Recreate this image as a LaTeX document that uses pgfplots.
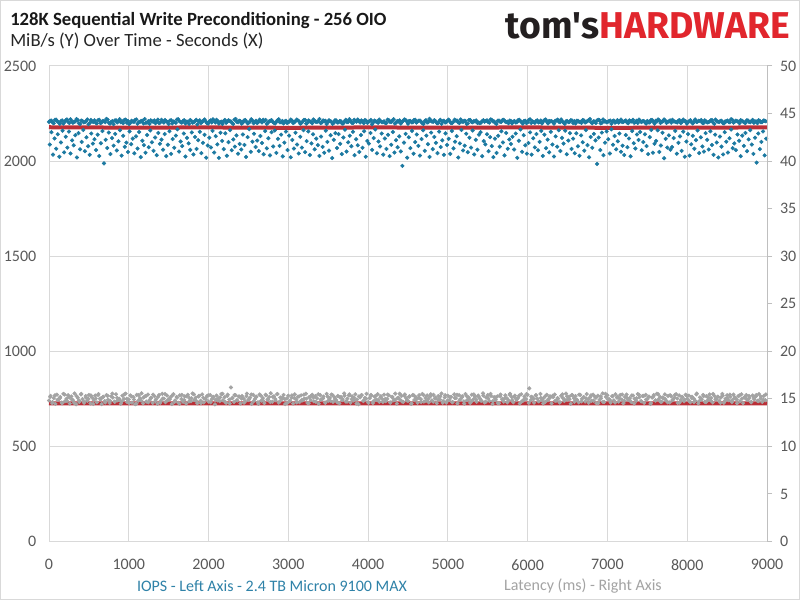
\documentclass[border=0pt]{standalone}
\usepackage{pgfplots}
\usepackage{pgfplotstable}
\pgfplotsset{compat=1.18}
\usepackage{fontspec}
\setmainfont{Carlito}
\newfontfamily\logofont{Fira Sans}
\definecolor{iops}{HTML}{1B79A1}
\definecolor{iopstxt}{HTML}{2F82A8}
\definecolor{lat}{HTML}{A3A3A3}
\definecolor{avg}{HTML}{BA2F37}
\definecolor{gridc}{HTML}{D9D9D9}
\definecolor{axc}{HTML}{BFBFBF}
\definecolor{tickc}{HTML}{595959}
\definecolor{logored}{HTML}{E1262D}
\definecolor{logodark}{HTML}{231F20}

% IOPS dense band, 30 s apart (row r, column c -> t = 300 r + 30 c)
\pgfplotstableread{
c0 c1 c2 c3 c4 c5 c6 c7 c8 c9
2206 2213 2199 2218 2204 2210 2197 2215 2207 2220
2201 2209 2216 2195 2211 2205 2219 2200 2208 2214
2198 2217 2203 2210 2222 2202 2207 2194 2215 2209
2204 2199 2218 2211 2201 2208 2216 2197 2206 2212
2221 2203 2196 2210 2214 2207 2200 2217 2202 2209
2195 2215 2208 2201 2220 2205 2211 2198 2207 2216
2202 2210 2193 2214 2206 2219 2200 2209 2203 2212
2217 2197 2207 2211 2201 2215 2208 2195 2221 2204
2210 2202 2216 2198 2208 2213 2206 2200 2218 2203
2211 2196 2209 2215 2201 2207 2220 2204 2198 2212
2205 2218 2200 2210 2214 2197 2208 2216 2202 2209
2199 2212 2206 2221 2203 2210 2195 2215 2207 2201
2214 2204 2209 2198 2217 2206 2212 2200 2211 2219
2203 2208 2216 2201 2210 2194 2213 2207 2218 2205
2209 2200 2215 2206 2220 2202 2208 2197 2212 2216
2196 2211 2204 2217 2207 2213 2199 2210 2203 2222
2208 2215 2201 2209 2196 2212 2205 2218 2200 2207
2213 2203 2219 2206 2211 2198 2216 2204 2209 2201
2200 2210 2207 2214 2202 2217 2208 2195 2213 2206
2217 2205 2199 2211 2208 2203 2215 2210 2197 2212
2204 2220 2209 2201 2214 2206 2198 2216 2207 2211
2210 2197 2213 2207 2219 2202 2209 2205 2215 2200
2198 2212 2206 2216 2203 2210 2221 2199 2208 2214
2215 2201 2208 2204 2211 2196 2213 2207 2202 2218
2206 2214 2199 2210 2217 2205 2200 2212 2209 2203
2211 2203 2216 2197 2208 2214 2206 2219 2201 2209
2202 2209 2205 2213 2200 2218 2210 2204 2215 2198
2219 2207 2211 2201 2214 2203 2208 2216 2196 2210
2205 2212 2198 2209 2206 2220 2202 2213 2207 2215
2208 2200 2214 2204 2217 2209 2199 2211 2205 2212
}\tabBand

% IOPS dense band, second pass (t = 300 r + 30 c + 15)
\pgfplotstableread{
c0 c1 c2 c3 c4 c5 c6 c7 c8 c9
2212 2203 2217 2208 2196 2214 2205 2219 2200 2210
2207 2221 2199 2213 2204 2209 2194 2216 2206 2202
2215 2200 2211 2205 2218 2197 2210 2213 2203 2220
2209 2216 2202 2195 2212 2206 2219 2204 2211 2198
2201 2210 2214 2207 2199 2218 2203 2209 2216 2205
2213 2198 2206 2219 2210 2202 2215 2207 2196 2211
2204 2217 2209 2200 2213 2208 2197 2214 2220 2203
2210 2205 2195 2216 2207 2211 2201 2218 2206 2212
2197 2214 2208 2203 2220 2199 2212 2205 2210 2217
2216 2202 2212 2206 2198 2215 2204 2211 2208 2200
2208 2213 2204 2218 2209 2201 2216 2197 2214 2206
2219 2207 2210 2200 2214 2212 2205 2209 2196 2215
2203 2211 2197 2209 2205 2220 2202 2217 2207 2210
2214 2199 2212 2207 2216 2203 2209 2201 2211 2204
2200 2218 2206 2213 2198 2210 2214 2206 2219 2208
2211 2204 2216 2202 2212 2207 2195 2215 2205 2213
2206 2210 2199 2217 2209 2203 2213 2208 2201 2218
2213 2201 2208 2212 2196 2216 2206 2210 2214 2203
2202 2215 2211 2205 2219 2209 2200 2212 2207 2216
2209 2207 2213 2198 2210 2204 2217 2203 2211 2200
2216 2200 2205 2211 2203 2213 2208 2219 2198 2209
2205 2212 2218 2204 2208 2196 2211 2206 2214 2210
2212 2206 2201 2214 2207 2216 2204 2209 2200 2217
2199 2219 2209 2206 2213 2210 2202 2215 2208 2205
2210 2203 2214 2208 2201 2212 2218 2205 2211 2197
2204 2216 2207 2212 2219 2200 2209 2213 2206 2214
2217 2208 2203 2215 2206 2211 2197 2210 2204 2209
2206 2212 2216 2200 2209 2205 2214 2202 2218 2207
2211 2201 2209 2213 2204 2217 2207 2210 2199 2212
2203 2214 2206 2210 2201 2208 2215 2204 2213 2209
}\tabBandB

% IOPS scattered points, 20 s apart (t = 200 r + 20 c + 10)
\pgfplotstableread{
c0 c1 c2 c3 c4 c5 c6 c7 c8 c9
2087 2152 2034 2119 2065 2141 2023 2098 2160 2046
2128 2071 2155 2040 2109 2083 2136 2019 2147 2062
2101 2164 2052 2125 2078 2033 2145 2092 2115 2058
2139 2027 2094 2158 1988 2112 2069 2150 2037 2121
2081 2143 2056 2104 2162 2029 2133 2075 2097 2048
2156 2089 2118 2041 2130 2066 2153 2021 2107 2084
2044 2137 2073 2161 2099 2054 2124 2031 2148 2091
2113 2060 2142 2026 2086 2157 2038 2116 2070 2134
2167 2050 2103 2079 2145 2024 2122 2093 2059 2151
2035 2127 2064 2110 2154 2042 2096 2138 2018 2082
2123 2072 2159 2045 2131 2088 2017 2149 2106 2063
2146 2028 2100 2163 2057 2114 2076 2135 2039 2090
2061 2140 2085 2022 2126 2168 2049 2102 2144 2074
2108 2053 2132 2095 2036 2158 2067 2120 2030 2152
2077 2161 2043 2117 2080 2139 2025 2097 2155 2058
2134 2020 2111 2066 2149 2087 2040 2128 2071 2163
2047 2105 2156 2032 2093 2141 2062 2118 2084 2027
2129 2075 2044 2160 2101 2055 2136 2016 2112 2147
2069 2142 2091 2037 2124 2165 2050 2099 2133 2078
2154 2031 2115 2083 2048 2137 2070 2157 2023 2106
2092 2148 2059 2121 2166 2041 2103 2077 2145 2034
2119 2064 2138 2026 2086 2153 2045 2110 2073 2130
2051 1975 2097 2143 2018 2125 2068 2159 2039 2100
2140 2080 2029 2116 2162 2054 2134 2089 2022 2150
2063 2127 2096 2042 2155 2074 2109 2033 2146 2085
2117 2038 2158 2067 2102 2131 2019 2093 2164 2056
2081 2144 2047 2123 2071 2161 2035 2112 2060 2139
2152 2026 2105 2088 2141 2052 2126 2079 2021 2118
2043 2133 2076 2157 2098 2030 2148 2065 2114 2090
2128 2061 2145 2017 2107 2166 2049 2136 2083 2039
2095 2151 2034 2120 2072 2142 2057 2101 2159 2027
2139 2068 2113 2046 2154 2087 2024 2130 2076 2162
2053 2122 2092 2160 2036 2108 2147 2064 2118 2041
2146 2078 2028 2135 2099 2055 2163 2084 2020 2127
2070 2143 2109 1985 2124 2058 2150 2031 2097 2156
2115 2040 2167 2086 2132 2062 2104 2145 2049 2081
2032 2137 2073 2119 2025 2158 2094 2066 2140 2111
2153 2057 2100 2141 2079 2037 2126 2164 2044 2091
2106 2162 2048 2082 2149 2015 2117 2071 2135 2060
2074 2121 2159 2039 2096 2130 2054 2155 2023 2103
2142 2029 2088 2133 2065 2110 2161 2042 2125 2077
2050 2147 2112 2061 2157 2085 2033 2139 2098 2019
2129 2076 2035 2152 2102 2045 2120 2166 2068 2093
2058 2140 2107 2026 2134 2080 2148 2052 2114 2163
2087 2038 2123 1992 2145 2063 2101 2156 2030 2118
}\tabScat

% Latency points (ms), 20 s apart (t = 200 r + 20 c)
\pgfplotstableread{
c0 c1 c2 c3 c4 c5 c6 c7 c8 c9
14.82 15.31 14.55 15.08 14.47 15.44 14.93 15.19 14.61 15.52
14.74 15.02 15.38 14.51 15.25 14.86 15.57 14.43 15.12 14.68
15.46 14.97 14.58 15.29 14.79 15.41 14.52 15.15 14.89 15.35
14.63 15.50 15.05 14.45 15.22 14.77 15.39 14.91 14.56 15.27
15.13 14.70 15.48 14.84 15.01 14.49 15.33 14.99 15.55 14.66
14.94 15.36 14.60 15.18 14.44 15.42 14.81 15.07 15.58 14.53
15.24 14.72 15.45 14.87 15.11 14.57 15.30 14.95 14.48 15.40
14.78 15.53 15.03 14.65 15.34 14.90 15.16 14.46 15.49 14.83
15.20 14.59 15.37 14.98 14.69 15.26 14.50 15.43 15.09 14.75
15.56 14.88 15.14 14.54 15.32 14.80 15.47 14.62 15.00 15.28
14.71 15.40 14.96 15.21 14.42 15.35 15.06 14.76 15.51 14.85
15.17 14.58 15.44 14.92 16.20 15.10 14.67 15.38 14.83 15.25
14.52 15.30 15.02 14.73 15.55 14.89 15.13 14.47 15.42 14.97
15.23 14.64 15.46 14.81 15.08 14.55 15.36 14.94 15.19 15.59
14.70 15.27 14.86 15.50 14.60 15.14 14.99 15.41 14.45 15.04
15.33 14.78 15.12 14.51 15.47 14.91 15.22 14.66 15.37 14.84
15.01 15.54 14.57 15.18 14.88 15.43 14.74 15.29 15.06 14.49
15.39 14.95 15.24 14.62 15.52 14.80 15.09 15.45 14.68 15.16
14.87 15.31 14.53 15.20 14.98 15.57 14.72 15.03 15.35 14.59
15.26 14.82 15.48 14.93 14.44 15.15 15.40 14.77 15.11 15.53
14.65 15.07 15.34 14.56 15.23 14.90 15.49 14.69 15.28 14.96
15.44 14.75 15.00 15.37 14.61 15.19 14.85 15.55 14.50 15.12
14.92 15.32 14.67 15.46 15.05 14.79 15.27 14.48 15.41 14.88
15.17 14.58 15.38 14.97 15.51 14.71 15.10 15.36 14.63 15.25
14.84 15.42 15.02 14.54 15.30 14.93 15.56 14.76 15.14 14.60
15.33 14.89 15.21 14.66 15.47 15.08 14.52 15.39 14.99 15.28
14.73 15.50 14.86 15.16 14.57 15.44 14.95 15.22 14.69 15.35
15.04 14.81 15.58 14.62 15.13 15.40 14.78 15.31 14.46 15.18
14.90 15.26 14.55 15.45 14.98 14.70 15.37 15.06 14.85 15.53
15.20 14.64 15.34 14.91 15.11 14.51 15.48 14.80 15.24 14.97
15.42 16.10 14.88 15.15 14.59 15.36 15.03 14.74 15.52 14.87
15.09 14.68 15.43 14.96 15.27 14.53 15.19 15.46 14.82 15.01
14.61 15.32 15.10 14.77 15.55 14.92 15.23 14.49 15.38 15.07
15.29 14.86 14.63 15.41 15.00 15.17 14.72 15.50 14.94 15.14
14.79 15.44 15.25 14.56 15.33 14.89 15.06 15.57 14.67 15.21
15.37 14.98 14.60 15.28 14.84 15.48 15.12 14.71 15.40 14.93
14.54 15.19 15.45 14.90 15.08 14.65 15.35 15.02 14.80 15.51
15.16 14.75 15.30 14.58 15.42 14.97 15.24 14.47 15.13 15.39
14.83 15.54 14.95 15.20 14.69 15.05 15.47 14.78 15.31 14.62
15.26 14.91 15.11 15.49 14.57 15.36 14.87 15.18 14.74 15.43
14.99 15.34 14.64 15.22 15.04 14.81 15.56 14.52 15.15 14.94
15.41 14.70 15.27 14.88 15.46 15.09 14.61 15.32 14.97 15.20
14.77 15.13 15.52 14.59 15.01 15.38 14.85 15.23 14.66 15.45
15.07 14.92 15.29 14.73 15.48 14.55 15.17 15.40 14.89 15.10
14.63 15.35 14.96 15.25 14.80 15.50 15.03 14.68 15.31 14.86
}\tabLat

% Latency points, second pass, 30 s apart (t = 300 r + 30 c + 15)
\pgfplotstableread{
c0 c1 c2 c3 c4 c5 c6 c7 c8 c9
15.21 14.66 15.38 14.89 15.07 14.53 15.45 14.78 15.16 14.95
14.58 15.29 14.84 15.52 14.71 15.12 14.99 15.36 14.47 15.03
15.41 14.92 15.18 14.61 15.33 14.80 15.55 14.69 15.10 14.87
14.74 15.47 15.01 14.56 15.25 14.93 14.50 15.39 14.82 15.14
15.30 14.63 15.09 15.44 14.77 15.20 14.59 15.03 15.50 14.85
14.97 15.35 14.68 15.13 14.49 15.42 14.88 15.27 14.72 15.06
15.48 14.79 15.24 14.55 15.11 14.96 15.37 14.64 15.19 14.91
14.83 15.15 15.53 14.70 15.32 14.52 15.05 15.40 14.86 15.23
15.02 14.60 15.28 14.94 15.46 14.75 15.17 14.48 15.34 14.81
15.43 14.90 14.65 15.22 15.00 15.51 14.73 15.12 14.97 14.57
14.76 15.36 15.08 14.62 15.26 14.85 15.44 15.01 14.54 15.31
15.14 14.69 15.49 14.92 15.04 14.58 15.21 14.80 15.39 14.98
14.63 15.18 14.87 15.33 14.71 15.47 14.95 15.10 14.51 15.25
15.37 14.82 15.02 14.56 15.41 14.74 15.29 14.89 15.15 14.67
14.99 15.45 14.61 15.20 14.88 15.06 15.54 14.72 15.32 14.84
15.23 14.53 15.35 14.96 15.11 14.66 15.40 14.79 15.00 15.48
14.70 15.13 14.91 15.27 14.59 15.38 14.83 15.19 14.64 15.09
15.42 14.86 15.16 14.50 15.30 14.97 14.73 15.46 14.93 15.24
14.81 15.34 14.68 15.05 15.52 14.77 15.14 14.55 15.28 14.90
15.07 14.62 15.43 14.85 15.18 14.98 15.36 14.71 14.94 15.50
14.57 15.22 14.99 15.39 14.75 15.10 14.52 15.31 14.87 15.16
15.33 14.79 15.08 14.64 15.47 14.89 15.25 14.96 15.41 14.69
14.92 15.44 14.73 15.17 15.03 14.58 15.37 14.81 15.12 14.54
15.26 14.67 15.53 14.95 14.84 15.29 14.61 15.20 15.02 15.45
14.78 15.11 14.88 15.35 14.51 15.06 15.42 14.74 15.31 14.93
15.19 14.56 15.24 14.83 15.49 14.70 15.15 14.97 14.63 15.38
14.86 15.40 15.04 14.60 15.21 14.91 15.34 14.77 15.09 14.66
15.47 14.72 14.98 15.28 14.65 15.13 14.82 15.51 14.94 15.23
14.59 15.32 14.80 15.07 15.44 14.87 15.18 14.53 15.36 15.01
15.14 14.95 15.30 14.68 15.10 15.39 14.76 15.22 14.90 15.46
}\tabLatB

\newcommand\tickfont{\fontsize{12pt}{14pt}\selectfont}

\begin{document}
\begin{tikzpicture}
\path[use as bounding box] (0,0) rectangle (600pt,450pt);
\fill[white] (0,0) rectangle (600pt,450pt);
\draw[gridc, line width=0.75pt] (0.375pt,0.375pt) rectangle (599.625pt,449.625pt);

\begin{axis}[
  at={(36.75pt,43.875pt)}, anchor=south west,
  scale only axis, width=538.5pt, height=356.625pt,
  xmin=0, xmax=9000, ymin=0, ymax=2500,
  xtick={0,1000,...,9000}, ytick={0,500,...,2500},
  scaled ticks=false,
  /pgf/number format/assume math mode=true,
  /pgf/number format/1000 sep={},
  major tick length=0pt,
  grid=major,
  major grid style={gridc, line width=0.75pt},
  axis line style={draw=gridc, line width=0.75pt},
  tick label style={font=\tickfont, text=tickc},
  yticklabel style={xshift=-6pt},
  xticklabel style={yshift=-10pt},
  clip=false,
]
\pgfplotsinvokeforeach{0,...,9}{
  \addplot[iops, only marks, mark=*, mark size=1.35pt]
    table[x expr=\coordindex*200+#1*20+10, y index=#1] {\tabScat};
}
\pgfplotsinvokeforeach{0,...,9}{
  \addplot[iops, only marks, mark=*, mark size=1.35pt]
    table[x expr=\coordindex*300+#1*30, y index=#1] {\tabBand};
  \addplot[iops, only marks, mark=*, mark size=1.35pt]
    table[x expr=\coordindex*300+#1*30+15, y index=#1] {\tabBandB};
}
\addplot[avg, line width=3pt] coordinates {
(0,2178) (1000,2176) (2000,2177) (3000,2175) (4000,2177) (5000,2176)
(6000,2177) (7000,2175) (8000,2176) (9000,2177)};
\end{axis}

\begin{axis}[
  at={(36.75pt,43.875pt)}, anchor=south west,
  scale only axis, width=538.5pt, height=356.625pt,
  xmin=0, xmax=9000, ymin=0, ymax=50,
  axis x line=none, axis y line*=right,
  ytick={0,5,...,50},
  /pgf/number format/assume math mode=true,
  y axis line style={-, draw=axc, line width=0.75pt},
  tick style={axc, line width=0.75pt},
  tick align=outside, major tick length=3.75pt,
  tick label style={font=\tickfont, text=tickc},
  yticklabel style={xshift=2.5pt},
  clip=false,
]
\pgfplotsinvokeforeach{0,...,9}{
  \addplot[lat, only marks, mark=*, mark size=1.35pt]
    table[x expr=\coordindex*200+#1*20, y index=#1] {\tabLat};
  \addplot[lat, only marks, mark=*, mark size=1.35pt]
    table[x expr=\coordindex*300+#1*30+15, y index=#1] {\tabLatB};
}
\addplot[avg, line width=3pt] coordinates {
(0,14.53) (1000,14.52) (2000,14.53) (3000,14.52) (4000,14.53) (5000,14.52)
(6000,14.53) (7000,14.52) (8000,14.53) (9000,14.52)};
\end{axis}

\node[anchor=base west, inner sep=0pt, text=black!90, font=\bfseries\fontsize{14pt}{16pt}\selectfont]
  at (7.5pt,430.5pt) {128K Sequential Write Preconditioning - 256 OIO};
\node[anchor=base west, inner sep=0pt, text=black!85, font=\fontsize{14pt}{16pt}\selectfont]
  at (7.5pt,414.75pt) {MiB/s (Y) Over Time - Seconds (X)};
\node[anchor=base east, inner sep=0pt, font=\logofont\bfseries\fontsize{28pt}{30pt}\selectfont]
  at (592.5pt,421pt) {\textcolor{logodark}{tom's}\textcolor{logored}{HARDWARE}};

\node[text=iopstxt, font=\tickfont] at (204pt,10.5pt) {IOPS - Left Axis - 2.4 TB Micron 9100 MAX};
\node[text=lat, font=\tickfont] at (437.25pt,10.5pt) {Latency (ms) - Right Axis};
\end{tikzpicture}
\end{document}
